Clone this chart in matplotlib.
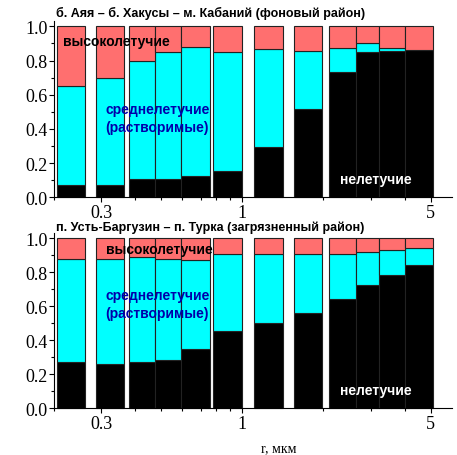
import matplotlib
matplotlib.use("Agg")
import matplotlib.pyplot as plt
from matplotlib.ticker import FixedLocator, NullFormatter

# size bins (r, мкм): left and right edges of each bar
r_left = [0.205, 0.286, 0.379, 0.474, 0.594, 0.780, 1.11, 1.55, 2.09, 2.64, 3.23, 4.00]
r_right = [0.261, 0.364, 0.474, 0.594, 0.758, 1.00, 1.413, 1.98, 2.64, 3.23, 4.00, 5.10]

# background region: cumulative boundaries
bg_nonvol = [0.072, 0.072, 0.105, 0.107, 0.125, 0.154, 0.296, 0.515, 0.733, 0.852, 0.858, 0.862]
bg_mid_top = [0.649, 0.698, 0.799, 0.848, 0.877, 0.848, 0.867, 0.858, 0.875, 0.902, 0.871, 0.864]

# polluted region: cumulative boundaries
pl_nonvol = [0.271, 0.259, 0.273, 0.286, 0.349, 0.455, 0.502, 0.559, 0.643, 0.724, 0.782, 0.845]
pl_mid_top = [0.876, 0.880, 0.888, 0.876, 0.871, 0.906, 0.910, 0.906, 0.908, 0.920, 0.929, 0.941]

titles = ["б. Аяя – б. Хакусы – м. Кабаний (фоновый район)",
          "п. Усть-Баргузин – п. Турка (загрязненный район)"]

c_black = "#000000"
c_cyan = "#00FFFF"
c_red = "#FF6F6F"
c_edge = "#222222"

fig = plt.figure(figsize=(4.57, 4.56), dpi=100)
ax1 = fig.add_axes([0.118, 0.5651, 0.871, 0.3873])
ax2 = fig.add_axes([0.118, 0.1024, 0.871, 0.3851])

widths = [b - a for a, b in zip(r_left, r_right)]

for ax, nonvol, midtop, title, ty in [(ax1, bg_nonvol, bg_mid_top, titles[0], 1.047),
                                      (ax2, pl_nonvol, pl_mid_top, titles[1], 1.035)]:
    mid = [m - n for m, n in zip(midtop, nonvol)]
    high = [1 - m for m in midtop]
    kw = dict(width=widths, align="edge", edgecolor=c_edge, linewidth=0.8, clip_on=False)
    ax.bar(r_left, nonvol, color=c_black, **kw)
    ax.bar(r_left, mid, bottom=nonvol, color=c_cyan, **kw)
    ax.bar(r_left, high, bottom=midtop, color=c_red, **kw)

    ax.set_xscale("log")
    ax.set_xlim(0.2, 6.0)
    ax.set_ylim(0, 1.033)
    ax.xaxis.set_major_locator(FixedLocator([0.3, 1, 5]))
    ax.xaxis.set_minor_locator(FixedLocator([0.2, 0.4, 0.5, 0.6, 0.7, 0.8, 0.9, 2, 3, 4]))
    ax.xaxis.set_minor_formatter(NullFormatter())
    ax.set_xticklabels(["0.3", "1", "5"])
    ax.set_yticks([0.0, 0.2, 0.4, 0.6, 0.8, 1.0])
    ax.set_yticks([0.1, 0.3, 0.5, 0.7, 0.9], minor=True)
    ax.set_yticklabels(["0.0", "0.2", "0.4", "0.6", "0.8", "1.0"])
    for lab in ax.get_xticklabels() + ax.get_yticklabels():
        lab.set_fontfamily("Liberation Serif")
        lab.set_fontsize(13)
    ax.tick_params(which="major", direction="out", length=3.5, width=0.8, pad=1)
    ax.tick_params(axis="x", which="major", pad=1.5)
    ax.tick_params(which="minor", direction="out", length=2.5, width=0.8)
    ax.spines["top"].set_visible(False)
    ax.spines["right"].set_visible(False)
    ax.text(0.005, ty, title, transform=ax.transAxes, fontsize=9, fontweight="bold",
            family="Liberation Sans", ha="left", va="center")

ax1.text(0.216, 0.914, "высоколетучие", fontsize=10, fontweight="bold",
         family="Liberation Sans", color="black", va="center")
ax1.text(0.311, 0.465, "среднелетучие\n(растворимые)", fontsize=10, fontweight="bold",
         family="Liberation Sans", color="#0000AA", va="center", linespacing=1.4)
ax1.text(2.3, 0.107, "нелетучие", fontsize=10, fontweight="bold",
         family="Liberation Sans", color="white", va="center")

ax2.text(0.311, 0.94, "высоколетучие", fontsize=10, fontweight="bold",
         family="Liberation Sans", color="black", va="center")
ax2.text(0.311, 0.615, "среднелетучие\n(растворимые)", fontsize=10, fontweight="bold",
         family="Liberation Sans", color="#0000AA", va="center", linespacing=1.4)
ax2.text(2.3, 0.107, "нелетучие", fontsize=10, fontweight="bold",
         family="Liberation Sans", color="white", va="center")

ax2.set_xlabel("r, мкм", family="Liberation Serif", fontsize=10)
ax2.xaxis.set_label_coords(0.565, -0.19)

fig.savefig("out.png", dpi=100)
